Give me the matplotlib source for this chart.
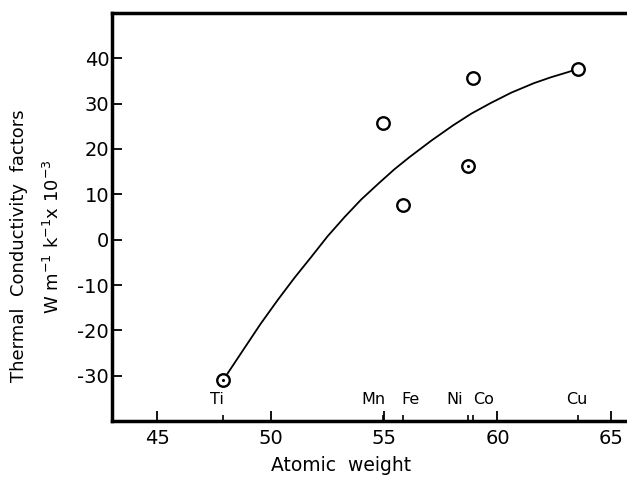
import matplotlib.pyplot as plt

# element data
elements = ['Ti', 'Mn', 'Fe', 'Ni', 'Co', 'Cu']
atomic_weight = [47.9, 54.94, 55.85, 58.7, 58.93, 63.55]
conductivity = [-31, 25.7, 7.6, 16.2, 35.6, 37.6]
dotted = [True, False, False, True, False, False]
label_x = [47.63, 54.55, 56.16, 58.13, 59.38, 63.48]

# smooth trend line
curve_x = [47.9, 48.79, 49.55, 50.31, 51.05, 51.79, 52.5, 53.26, 54.0, 54.78, 55.45, 56.12, 57.1, 58.04, 58.85, 59.69, 60.6, 61.6, 62.35, 63.08, 63.5]
curve_y = [-31, -24.3, -18.6, -13.3, -8.4, -3.8, 0.7, 5.0, 8.9, 12.5, 15.5, 18.2, 21.9, 25.2, 27.8, 30.1, 32.4, 34.5, 35.8, 36.9, 37.6]

xticks = [45, 50, 55, 60, 65]
yticks = [-30, -20, -10, 0, 10, 20, 30, 40]

plt.rcParams['font.family'] = ['DejaVu Sans']
plt.rcParams['axes.unicode_minus'] = False

fig = plt.figure(figsize=(6.27, 4.79), dpi=100)
ax = fig.add_axes([0.1786, 0.121, 0.83, 0.852])

ax.plot(curve_x, curve_y, color='black', lw=1.3)
for x, y, d in zip(atomic_weight, conductivity, dotted):
    ax.plot(x, y, 'o', ms=9, mfc='white', mec='black', mew=1.7)
    if d:
        ax.plot(x, y, '.', ms=2.5, color='black')

for name, x in zip(elements, label_x):
    ax.text(x, -35.3, name, ha='center', va='center', fontsize=11.5)

ax.set_xlim(43, 65.95)
ax.set_ylim(-40, 50)
ax.set_xticks(xticks)
ax.set_yticks(yticks)
ax.set_xticks(atomic_weight, minor=True)
ax.tick_params(which='major', direction='in', length=7, width=1.3, labelsize=14)
ax.tick_params(axis='x', which='major', pad=6)
ax.tick_params(axis='x', which='minor', direction='in', length=4, width=1.2)
ax.tick_params(axis='y', which='major', pad=2)

for side in ['left', 'bottom', 'top']:
    ax.spines[side].set_linewidth(2.5)
ax.spines['right'].set_visible(False)

ax.set_xlabel('Atomic  weight', fontsize=13.5)
ax.xaxis.set_label_coords(0.44, -0.085)

fig.text(19 / 627, 1 - 246 / 479, 'Thermal  Conductivity  factors', rotation=90,
         ha='center', va='center', fontsize=13)
fig.text(53 / 627, 1 - 237 / 479, r'W m$^{-1}$ k$^{-1}$x 10$^{-3}$', rotation=90,
         ha='center', va='center', fontsize=13)

plt.savefig('out.png', dpi=100)
